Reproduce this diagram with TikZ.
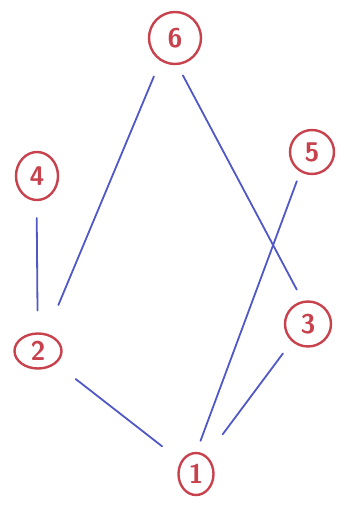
\documentclass[tikz,border=0pt]{standalone}
\usepackage{fontspec}
\usetikzlibrary{shapes.geometric}
\definecolor{nodered}{HTML}{C8424E}
\definecolor{edgeblue}{HTML}{5058C8}
\begin{document}
\begin{tikzpicture}[x=1pt,y=-1pt,
  vert/.style={draw=nodered, text=nodered, line width=2.4pt, ellipse, inner sep=0pt, outer sep=0pt, font=\sffamily\bfseries\fontsize{27}{27}\selectfont},
  edge/.style={draw=edgeblue, line width=1.8pt, line cap=round}]
\useasboundingbox[fill=white] (0,0) rectangle (343,506);
\node[vert, minimum width=52, minimum height=52] (n6) at (175,38) {6};
\node[vert, minimum width=42, minimum height=48] (n4) at (37,176) {4};
\node[vert, minimum width=44, minimum height=44] (n5) at (312,152) {5};
\node[vert, minimum width=47, minimum height=35] (n2) at (38,351) {2};
\node[vert, minimum width=46, minimum height=45] (n3) at (308,324) {3};
\node[vert, minimum width=35, minimum height=42] (n1) at (196,474) {1};
\draw[edge, shorten <=18pt, shorten >=32pt] (n6.237) -- (n2.64);
\draw[edge, shorten <=13pt, shorten >=14pt] (n6.274) -- (n3.102);
\draw[edge, shorten <=18pt, shorten >=23pt] (n4.269) -- (n2.91);
\draw[edge, shorten <=11pt, shorten >=13pt] (n5.239) -- (n1.90);
\draw[edge, shorten <=26pt, shorten >=25pt] (n2.325) -- (n1.139);
\draw[edge, shorten <=16pt, shorten >=28pt] (n3.227) -- (n1.60);
\end{tikzpicture}
\end{document}
